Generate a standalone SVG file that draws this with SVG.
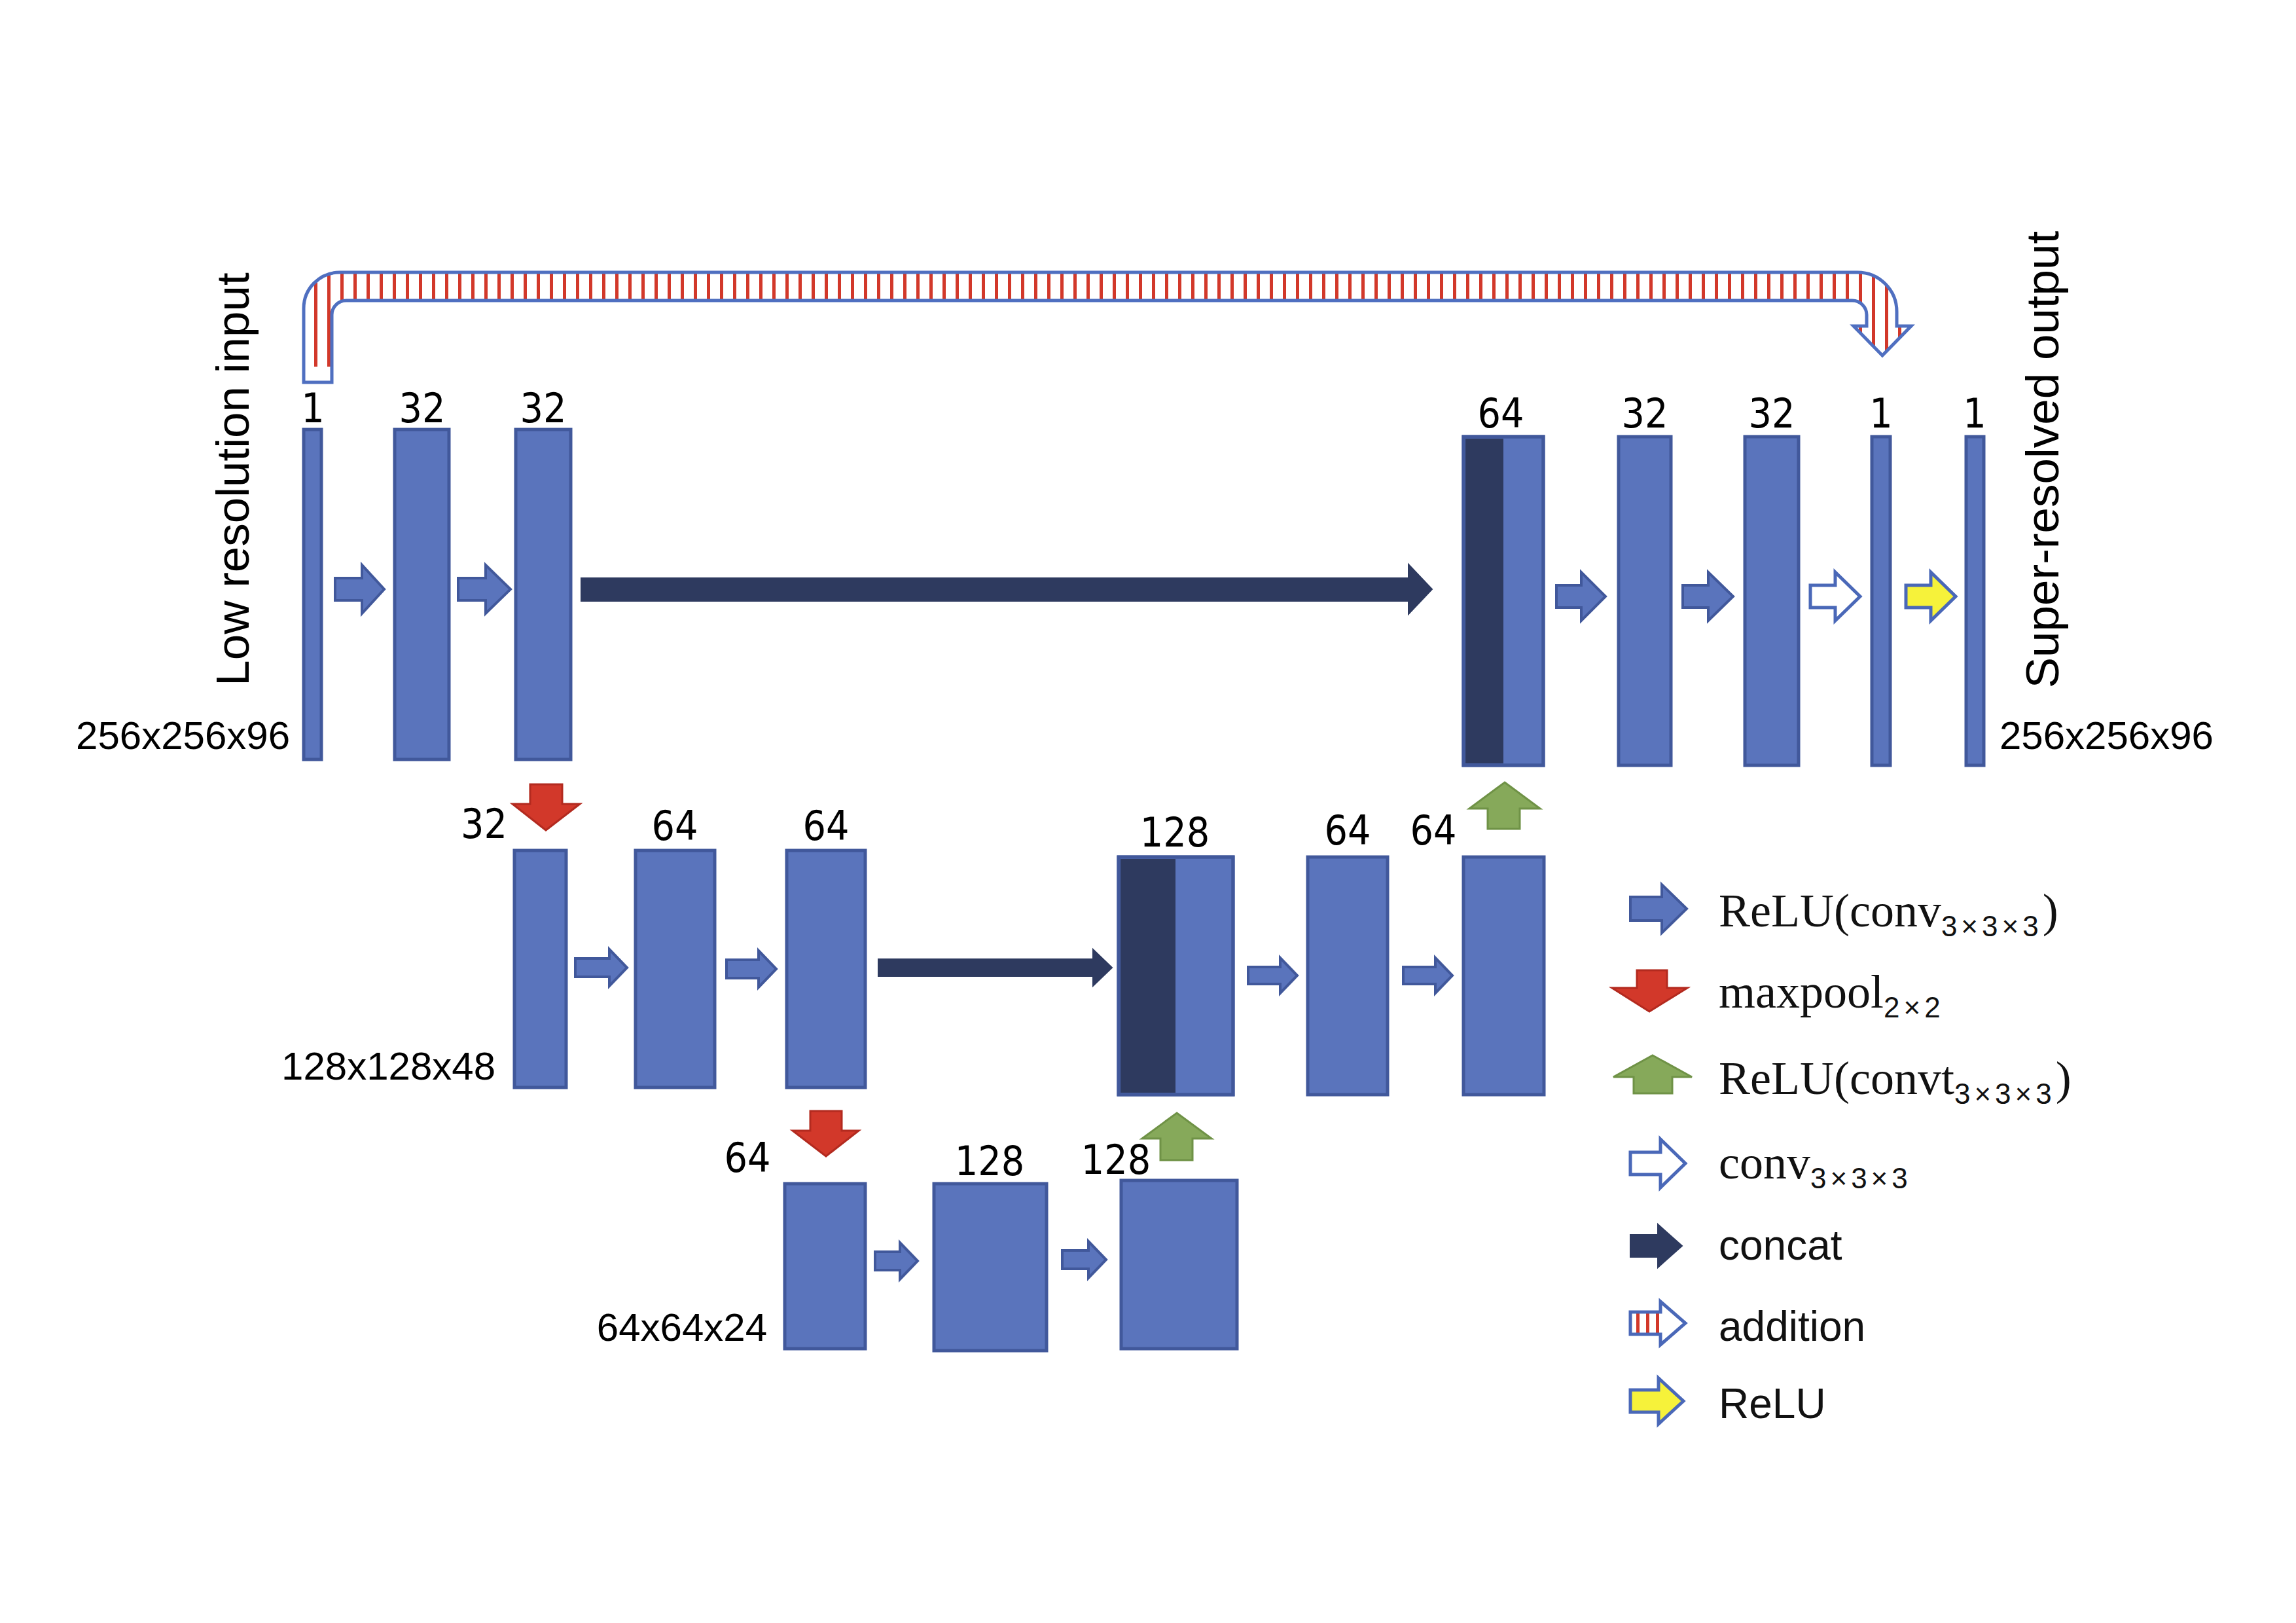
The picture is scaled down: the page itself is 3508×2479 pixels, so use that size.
<svg xmlns="http://www.w3.org/2000/svg" width="3508" height="2479" viewBox="0 0 3508 2479">
<style>
.bar{fill:#5a74bc;stroke:#41589b;stroke-width:5}
.dark{fill:#2e3a5f}
.ar{fill:#5a74bc;stroke:#41589b;stroke-width:4}
.cat{fill:#2e3a5f;stroke:#2e3a5f;stroke-width:2}
.open{fill:#ffffff;stroke:#4a68b8;stroke-width:5}
.yel{fill:#f6f23a;stroke:#4a68b8;stroke-width:5}
.red{fill:#d2382a;stroke:#b32a1f;stroke-width:3}
.grn{fill:#86a95a;stroke:#6f9246;stroke-width:3}
.lbl{font-family:"Liberation Sans Narrow","DejaVu Sans Condensed","Liberation Sans",sans-serif;font-size:62px;fill:#000;text-anchor:middle}
.dim{font-family:"Liberation Sans",Arial,sans-serif;font-size:60px;fill:#000}
.rot{font-family:"Liberation Sans",Arial,sans-serif;font-size:71px;fill:#000;text-anchor:middle}
.ser{font-family:"Liberation Serif","Times New Roman",serif;font-size:72px;fill:#111}
.sub{font-family:"Liberation Sans",Arial,sans-serif;font-size:44px;letter-spacing:6px}
.san{font-family:"Liberation Sans",Arial,sans-serif;font-size:64px;fill:#111}
</style>
<defs>
<pattern id="stripes" patternUnits="userSpaceOnUse" x="0" y="0" width="20" height="20">
<rect x="0" y="0" width="5" height="20" fill="#d2382a"/>
</pattern>
<clipPath id="addClip">
<path d="M464 584 L464 471 A55 55 0 0 1 519 416 L2838 416 A60 60 0 0 1 2898 476 L2898 498 L2920 498 L2876 543 L2832 498 L2852 498 L2852 481 A22 22 0 0 0 2830 459 L529 459 A22 22 0 0 0 507 481 L507 584 Z"/>
</clipPath>
</defs>
<rect x="0" y="0" width="3508" height="2479" fill="#ffffff"/>

<g id="connectors">
<g id="addition-skip">
<path d="M464 584 L464 471 A55 55 0 0 1 519 416 L2838 416 A60 60 0 0 1 2898 476 L2898 498 L2920 498 L2876 543 L2832 498 L2852 498 L2852 481 A22 22 0 0 0 2830 459 L529 459 A22 22 0 0 0 507 481 L507 584 Z" fill="#ffffff"/>
<rect x="440" y="400" width="2500" height="160" fill="url(#stripes)" clip-path="url(#addClip)"/>
<path d="M464 584 L464 471 A55 55 0 0 1 519 416 L2838 416 A60 60 0 0 1 2898 476 L2898 498 L2920 498 L2876 543 L2832 498 L2852 498 L2852 481 A22 22 0 0 0 2830 459 L529 459 A22 22 0 0 0 507 481 L507 584 Z" fill="none" stroke="#4f6fc0" stroke-width="5" stroke-linejoin="miter"/>
</g>
<polygon class="ar" points="512,883 553,883 553,863 587,900 553,937 553,917 512,917"/>
<polygon class="ar" points="700,883 742,883 742,863 780,900 742,937 742,917 700,917"/>
<polygon class="cat" points="888,883 2152,883 2152,862 2188,900 2152,938 2152,918 888,918"/>
<polygon class="ar" points="2378,894 2416,894 2416,874 2453,911 2416,948 2416,928 2378,928"/>
<polygon class="ar" points="2571,894 2610,894 2610,874 2648,911 2610,948 2610,928 2571,928"/>
<polygon class="open" points="2766,894 2804,894 2804,874 2842,911 2804,948 2804,928 2766,928"/>
<polygon class="yel" points="2912,894 2950,894 2950,874 2988,911 2950,948 2950,928 2912,928"/>
<polygon class="red" points="810,1198 859,1198 859,1228 886,1228 834,1268 783,1228 810,1228"/>
<polygon class="grn" points="2299,1195 2353,1235 2322,1235 2322,1266 2273,1266 2273,1235 2245,1235"/>
<polygon class="ar" points="879,1464 931,1464 931,1450 958,1478 931,1506 931,1492 879,1492"/>
<polygon class="ar" points="1110,1466 1159,1466 1159,1452 1186,1480 1159,1508 1159,1494 1110,1494"/>
<polygon class="cat" points="1342,1465 1670,1465 1670,1450 1699,1478 1670,1506 1670,1491 1342,1491"/>
<polygon class="ar" points="1907,1477 1956,1477 1956,1463 1982,1490 1956,1517 1956,1503 1907,1503"/>
<polygon class="ar" points="2144,1477 2193,1477 2193,1463 2219,1490 2193,1517 2193,1503 2144,1503"/>
<polygon class="red" points="1238,1697 1286,1697 1286,1727 1312,1727 1262,1766 1211,1727 1238,1727"/>
<polygon class="grn" points="1798,1700 1851,1739 1822,1739 1822,1772 1773,1772 1773,1739 1745,1739"/>
<polygon class="ar" points="1337,1912 1375,1912 1375,1898 1402,1926 1375,1954 1375,1940 1337,1940"/>
<polygon class="ar" points="1623,1910 1663,1910 1663,1896 1690,1924 1663,1952 1663,1938 1623,1938"/>
</g>

<g id="t1"><rect class="bar" x="464" y="656" width="27" height="504"/><text class="lbl" x="478" y="645">1</text></g>
<g id="t2"><rect class="bar" x="603" y="656" width="83" height="504"/><text class="lbl" x="645" y="645">32</text></g>
<g id="t3"><rect class="bar" x="788" y="656" width="84" height="504"/><text class="lbl" x="830" y="645">32</text></g>
<g id="t4"><rect class="bar" x="2236" y="667" width="122" height="502"/><rect class="dark" x="2239" y="670" width="58" height="496"/><rect x="2236" y="667" width="122" height="502" fill="none" stroke="#41589b" stroke-width="5"/><text class="lbl" x="2293" y="653">64</text></g>
<g id="t5"><rect class="bar" x="2473" y="667" width="80" height="502"/><text class="lbl" x="2513" y="653">32</text></g>
<g id="t6"><rect class="bar" x="2666" y="667" width="82" height="502"/><text class="lbl" x="2707" y="653">32</text></g>
<g id="t7"><rect class="bar" x="2860" y="667" width="28" height="502"/><text class="lbl" x="2874" y="653">1</text></g>
<g id="t8"><rect class="bar" x="3004" y="667" width="27" height="502"/><text class="lbl" x="3017" y="653">1</text></g>

<g id="m1"><rect class="bar" x="786" y="1299" width="79" height="362"/><text class="lbl" x="775" y="1280" style="text-anchor:end">32</text></g>
<g id="m2"><rect class="bar" x="971" y="1299" width="121" height="362"/><text class="lbl" x="1031" y="1283">64</text></g>
<g id="m3"><rect class="bar" x="1202" y="1299" width="120" height="362"/><text class="lbl" x="1262" y="1283">64</text></g>
<g id="m4"><rect class="bar" x="1709" y="1309" width="175" height="363"/><rect class="dark" x="1712" y="1312" width="84" height="357"/><rect x="1709" y="1309" width="175" height="363" fill="none" stroke="#41589b" stroke-width="5"/><text class="lbl" x="1795" y="1293">128</text></g>
<g id="m5"><rect class="bar" x="1998" y="1309" width="122" height="363"/><text class="lbl" x="2059" y="1290">64</text></g>
<g id="m6"><rect class="bar" x="2236" y="1309" width="123" height="363"/><text class="lbl" x="2190" y="1290">64</text></g>

<g id="b1"><rect class="bar" x="1199" y="1808" width="123" height="252"/><text class="lbl" x="1142" y="1790">64</text></g>
<g id="b2"><rect class="bar" x="1427" y="1808" width="172" height="255"/><text class="lbl" x="1512" y="1795">128</text></g>
<g id="b3"><rect class="bar" x="1713" y="1803" width="177" height="257"/><text class="lbl" x="1705" y="1793">128</text></g>

<g id="labels">
<text class="dim" x="443" y="1144" text-anchor="end">256x256x96</text>
<text class="dim" x="3055" y="1144">256x256x96</text>
<text class="dim" x="757" y="1649" text-anchor="end">128x128x48</text>
<text class="dim" x="1172" y="2048" text-anchor="end">64x64x24</text>
<text class="rot" transform="translate(380,732) rotate(-90)" x="0" y="0">Low resolution input</text>
<text class="rot" transform="translate(3145,702) rotate(-90)" x="0" y="0">Super-resolved output</text>
</g>

<g id="legend">
<g id="leg-relu-conv"><polygon class="ar" points="2491,1370 2539,1370 2539,1351 2577,1388 2539,1425 2539,1406 2491,1406"/>
<text class="ser" x="2626" y="1415">ReLU(conv<tspan class="sub" dy="15">3×3×3</tspan><tspan dy="-15">)</tspan></text></g>
<g id="leg-maxpool"><polygon class="red" points="2501,1482 2547,1482 2547,1509 2578,1509 2520,1545 2463,1509 2501,1509"/>
<text class="ser" x="2626" y="1539">maxpool<tspan class="sub" dy="15">2×2</tspan></text></g>
<g id="leg-convt"><polygon class="grn" points="2525,1612 2585,1645 2555,1645 2555,1670 2496,1670 2496,1645 2465,1645"/>
<text class="ser" x="2626" y="1671">ReLU(convt<tspan class="sub" dy="15">3×3×3</tspan><tspan dy="-15">)</tspan></text></g>
<g id="leg-conv"><polygon class="open" points="2491,1760 2537,1760 2537,1740 2575,1777 2537,1814 2537,1794 2491,1794"/>
<text class="ser" x="2626" y="1800">conv<tspan class="sub" dy="15">3×3×3</tspan></text></g>
<g id="leg-concat"><polygon class="cat" points="2491,1886 2533,1886 2533,1870 2570,1903 2533,1936 2533,1920 2491,1920"/>
<text class="san" x="2626" y="1924">concat</text></g>
<g id="leg-addition"><polygon points="2491,2004 2537,2004 2537,1988 2575,2021 2537,2054 2537,2038 2491,2038" fill="#ffffff"/>
<rect x="2500" y="2006" width="5" height="30" fill="#d2382a"/><rect x="2515" y="2006" width="5" height="30" fill="#d2382a"/><rect x="2530" y="2006" width="5" height="30" fill="#d2382a"/>
<polygon class="open" points="2491,2004 2537,2004 2537,1988 2575,2021 2537,2054 2537,2038 2491,2038" style="fill:none"/>
<text class="san" x="2626" y="2048">addition</text></g>
<g id="leg-relu"><polygon class="yel" points="2491,2123 2534,2123 2534,2105 2572,2140 2534,2175 2534,2157 2491,2157"/>
<text class="san" x="2626" y="2166">ReLU</text></g>
</g>
</svg>
